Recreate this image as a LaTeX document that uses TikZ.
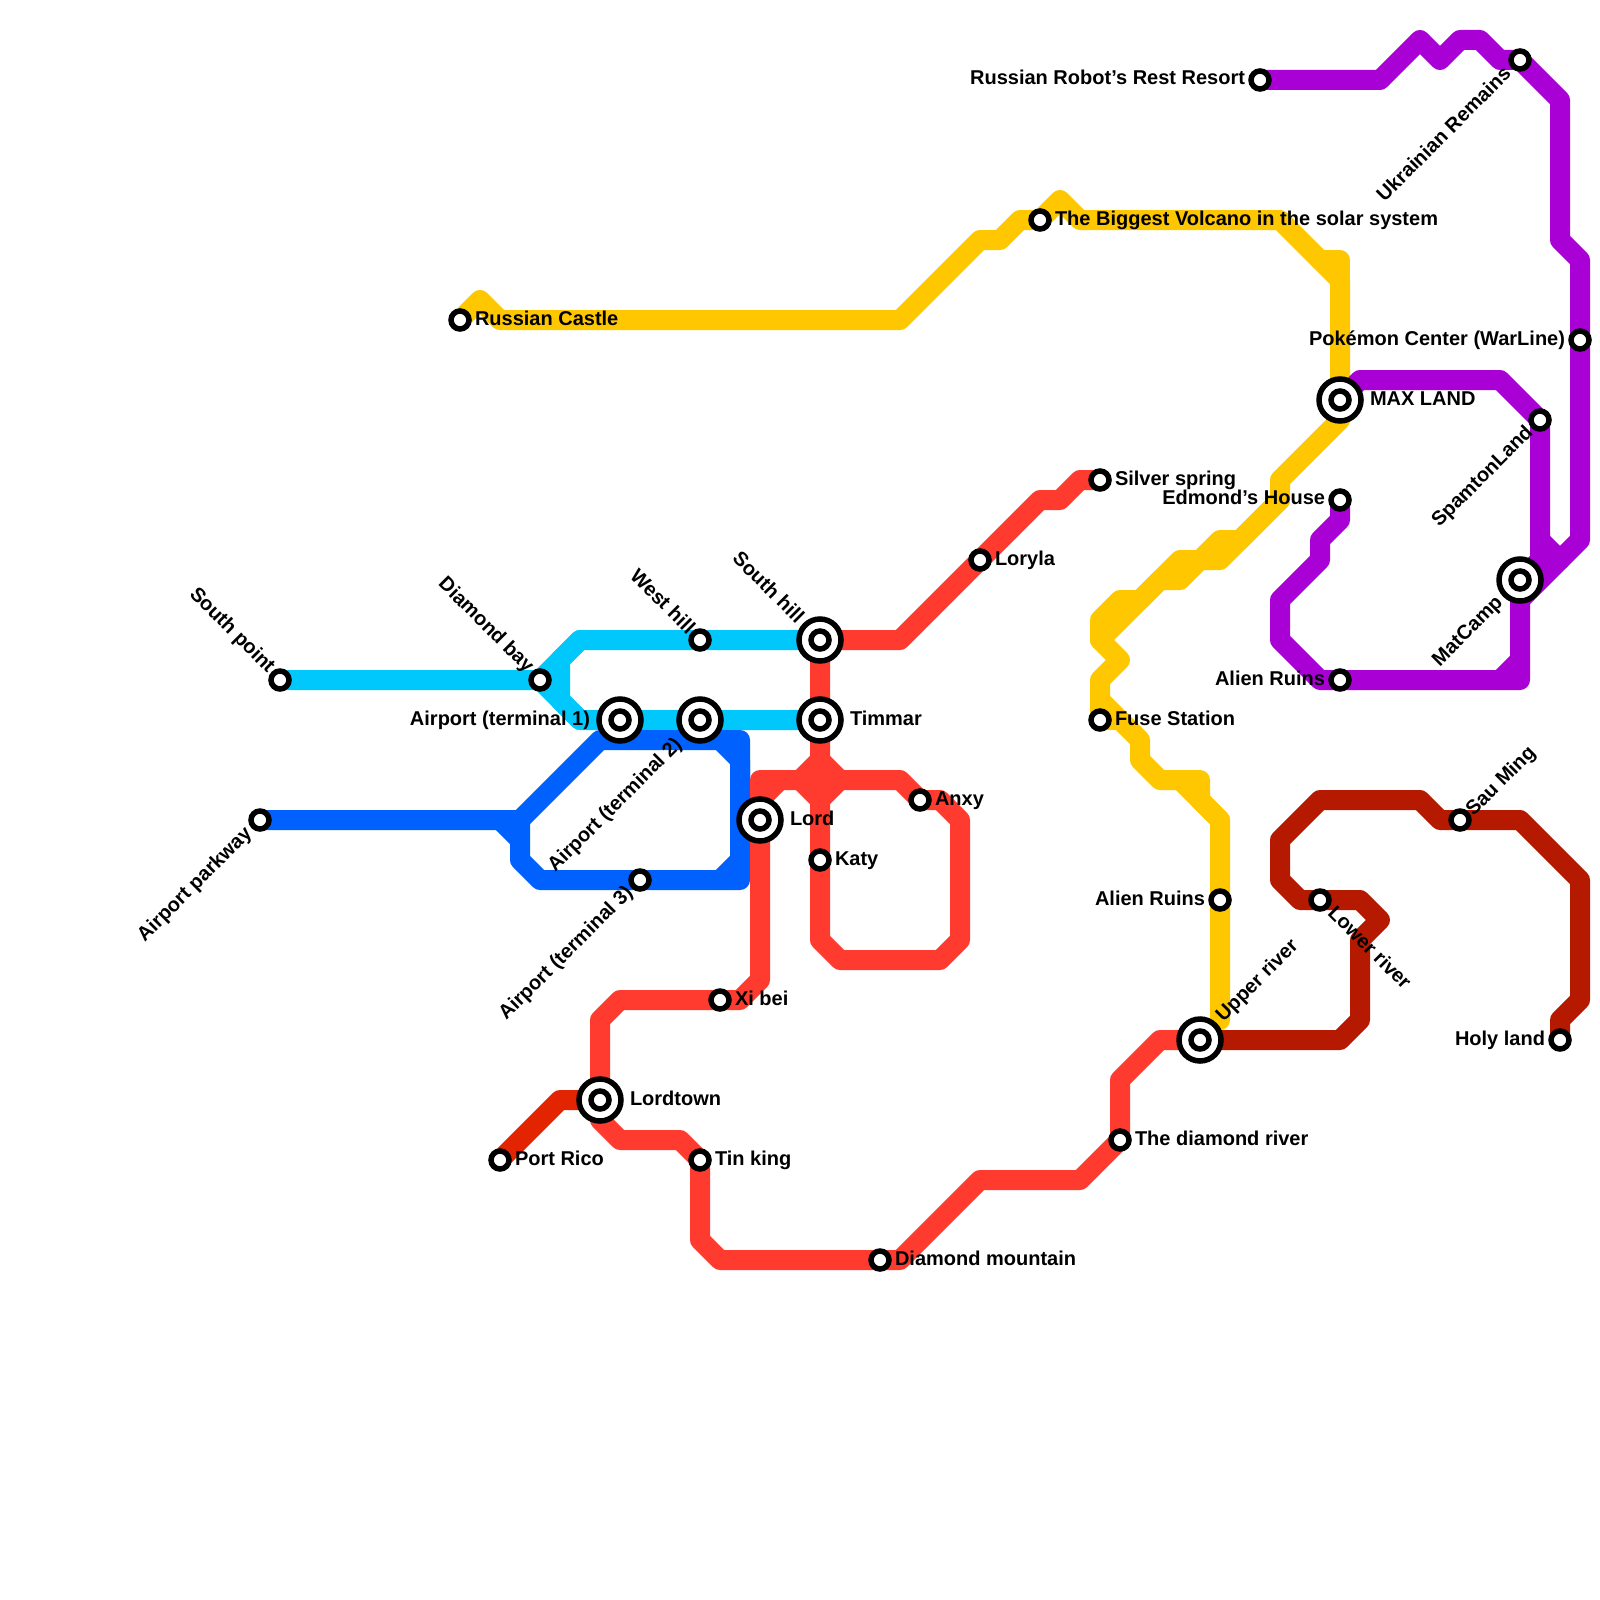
\documentclass[tikz,border=0pt]{standalone}
\usepackage{fontspec}
\setmainfont{Liberation Sans}
\definecolor{cCyan}{HTML}{00C7FC}
\definecolor{cBlue}{HTML}{0061FE}
\definecolor{cRed}{HTML}{FF3B30}
\definecolor{cOrange}{HTML}{E32400}
\definecolor{cDark}{HTML}{B51A00}
\definecolor{cYellow}{HTML}{FEC700}
\definecolor{cPurple}{HTML}{A800D5}
\tikzset{
  mline/.style={line width=20pt,line join=round,line cap=round},
  stsmall/.style={circle,draw=black,fill=white,line width=5.5pt,minimum size=18pt,inner sep=0pt,outer sep=0pt},
  stbig/.style={circle,draw=black,fill=white,line width=5.5pt,minimum size=42pt,inner sep=0pt,outer sep=0pt},
  lab/.style={font=\bfseries\fontsize{20}{21}\selectfont,inner sep=0pt,outer sep=0pt,text=black},
  labR/.style={lab,anchor=base west,xshift=-1pt,yshift=-1pt},
  labL/.style={lab,anchor=base east,yshift=-1pt},
  labNE/.style={lab,rotate=45,anchor=west},
  labSW/.style={lab,rotate=45,anchor=east},
  labNW/.style={lab,rotate=-45,anchor=east},
  labSE/.style={lab,rotate=-45,anchor=west},
}
\begin{document}
\begin{tikzpicture}[x=1pt,y=-1pt]
\useasboundingbox (0,0) rectangle (1600,1600);
\fill[white] (0,0) rectangle (1600,1600);
% station positions
\foreach \n/\x/\y in {rc/460/320,sp/280/680,db/540/680,wh/700/640,sh/820/640,at1/620/720,at2/700/720,tm/820/720,ap/260/820,at3/640/880,lo/760/820,ka/820/860,an/920/800,xb/720/1000,lt/600/1100,pr/500/1160,tk/700/1160,dm/880/1260,dr/1120/1140,ur/1200/1040,lr/1320/900,ar/1220/900,sm/1460/820,hl/1560/1040,fs/1100/720,ss/1100/480,ly/980/560,bv/1040/220,ml/1340/400,eh/1340/500,ar2/1340/680,mc/1520/580,sl/1540/420,pc/1580/340,ur2/1520/60,rr/1260/80}{
  \coordinate (\n) at (\x,\y);
}
% cyan
\draw[mline,cCyan] (sp) -- (db) -- (580,640) -- (sh);
\draw[mline,cCyan] (db) -- (580,720) -- (tm);
\draw[mline,cCyan] (580,640) -- (560,660) -- (560,700) -- (580,720);
% blue
\draw[mline,cBlue] (ap) -- (520,820) -- (600,740) -- (740,740) -- (740,880) -- (540,880) -- (520,860) -- (520,820);
\draw[mline,cBlue] (720,740) -- (740,760) -- (740,860) -- (720,880);
\draw[mline,cBlue] (500,820) -- (520,840);
% red
\draw[mline,cRed] (sh) -- (900,640) -- (1040,500) -- (1060,500) -- (1080,480) -- (ss);
\draw[mline,cRed] (sh) -- (820,940) -- (840,960) -- (940,960) -- (960,940) -- (960,820) -- (940,800) -- (920,800) -- (900,780) -- (760,780) -- (lo);
\draw[mline,cRed] (760,800) -- (780,780);
\draw[mline,cRed] (800,780) -- (820,760) -- (840,780) -- (820,800) -- cycle;
\fill[cRed] (800,780) -- (820,760) -- (840,780) -- (820,800) -- cycle;
\draw[mline,cRed] (lo) -- (760,980) -- (740,1000) -- (620,1000) -- (600,1020) -- (lt) -- (600,1120) -- (620,1140) -- (680,1140) -- (tk) -- (700,1240) -- (720,1260) -- (900,1260) -- (980,1180) -- (1080,1180) -- (dr) -- (1120,1080) -- (1160,1040) -- (ur);
% orange red
\draw[mline,cOrange] (pr) -- (560,1100) -- (lt);
% yellow
\draw[mline,cYellow] (rc) -- (480,300) -- (500,320) -- (900,320) -- (980,240) -- (1000,240) -- (1020,220) -- (bv) -- (1060,200) -- (1080,220) -- (1280,220) -- (1340,280) -- (ml) -- (1340,420) -- (1280,480) -- (1280,500) -- (1240,540) -- (1220,540) -- (1200,560) -- (1180,560) -- (1140,600) -- (1120,600) -- (1100,620) -- (1100,640) -- (1120,660) -- (1100,680) -- (fs);
\draw[mline,cYellow] (1320,260) -- (1340,260) -- (1340,280);
\draw[mline,cYellow] (1280,500) -- (1220,560) -- (1200,560) -- (1180,580) -- (1160,580) -- (1100,640);
\draw[mline,cYellow] (1100,700) -- (1140,740) -- (1140,760) -- (1160,780) -- (1200,780) -- (1200,800) -- (1220,820) -- (1220,1020);
\draw[mline,cYellow] (fs) -- (1120,720);
\draw[mline,cYellow] (1180,780) -- (1220,820);
% dark red
\draw[mline,cDark] (ur) -- (1340,1040) -- (1360,1020) -- (1360,940) -- (1380,920) -- (1360,900) -- (1300,900) -- (1280,880) -- (1280,840) -- (1320,800) -- (1420,800) -- (1440,820) -- (1520,820) -- (1580,880) -- (1580,1000) -- (1560,1020) -- (hl);
% purple
\draw[mline,cPurple] (rr) -- (1380,80) -- (1420,40) -- (1440,60) -- (1460,40) -- (1480,40) -- (1500,60) -- (ur2) -- (1560,100) -- (1560,240) -- (1580,260) -- (1580,540) -- (1520,600);
\draw[mline,cPurple] (ml) -- (1360,380) -- (1500,380) -- (sl) -- (1540,560) -- (mc);
\draw[mline,cPurple] (1540,540) -- (1560,560);
\draw[mline,cPurple] (mc) -- (1520,680) -- (1320,680) -- (1280,640) -- (1280,600) -- (1320,560) -- (1320,540) -- (1340,520) -- (eh);
\draw[mline,cPurple] (1520,660) -- (1500,680);
% big stations
\foreach \n in {sh,at1,at2,tm,lo,lt,ur,ml,mc}{
  \node[stbig] at (\n) {};
}
% small stations
\foreach \n in {rc,sp,db,wh,sh,at1,at2,tm,ap,at3,lo,ka,an,xb,lt,pr,tk,dm,dr,ur,lr,ar,sm,hl,fs,ss,ly,bv,ml,eh,ar2,mc,sl,pc,ur2,rr}{
  \node[stsmall] (st\n) at (\n) {};
}
% labels, right
\node[labR] (t1) at (476,324) {Russian Castle};
\node[labR] (t2) at (1056,224) {The Biggest Volcano in the solar system};
\node[labR] (t3) at (1116,484) {Silver spring};
\node[labR] (t4) at (996,564) {Loryla};
\node[labR] (t5) at (1371,404) {MAX LAND};
\node[labR] (t6) at (851,724) {Timmar};
\node[labR] (t7) at (1116,724) {Fuse Station};
\node[labR] (t8) at (936,804) {Anxy};
\node[labR] (t9) at (791,824) {Lord};
\node[labR] (t10) at (836,864) {Katy};
\node[labR] (t11) at (736,1004) {Xi bei};
\node[labR] (t12) at (631,1104) {Lordtown};
\node[labR] (t13) at (516,1164) {Port Rico};
\node[labR] (t14) at (716,1164) {Tin king};
\node[labR] (t15) at (896,1264) {Diamond mountain};
\node[labR] (t16) at (1136,1144) {The diamond river};
% labels, left
\node[labL] (t17) at (1245,84) {Russian Robot’s Rest Resort};
\node[labL] (t18) at (1565,344) {Pokémon Center (WarLine)};
\node[labL] (t19) at (1325,503) {Edmond’s House};
\node[labL] (t20) at (1325,684) {Alien Ruins};
\node[labL] (t21) at (590,724) {Airport (terminal 1)};
\node[labL] (t22) at (1205,904) {Alien Ruins};
\node[labL] (t23) at (1545,1044) {Holy land};
% labels, rotated
\node[labNW] (t24) at (271,670) {South point};
\node[labNW] (t25) at (530,670) {Diamond bay};
\node[labNW] (t26) at (692,630) {West hill};
\node[labNW] (t27) at (801,619) {South hill};
\node[labSW] (t28) at (249,831) {Airport parkway};
\node[labSW] (t29) at (630,890) {Airport (terminal 3)};
\node[labSW] (t30) at (679,742) {Airport (terminal 2)};
\node[labSW] (t31) at (1507,70) {Ukrainian Remains};
\node[labSW] (t32) at (1530,430) {SpamtonLand};
\node[labSW] (t33) at (1500,600) {MatCamp};
\node[labNE] (t34) at (1220,1019) {Upper river};
\node[labNE] (t35) at (1470,813) {Sau Ming};
\node[labSE] (t36) at (1332,909) {Lower river};
\end{tikzpicture}
\end{document}
